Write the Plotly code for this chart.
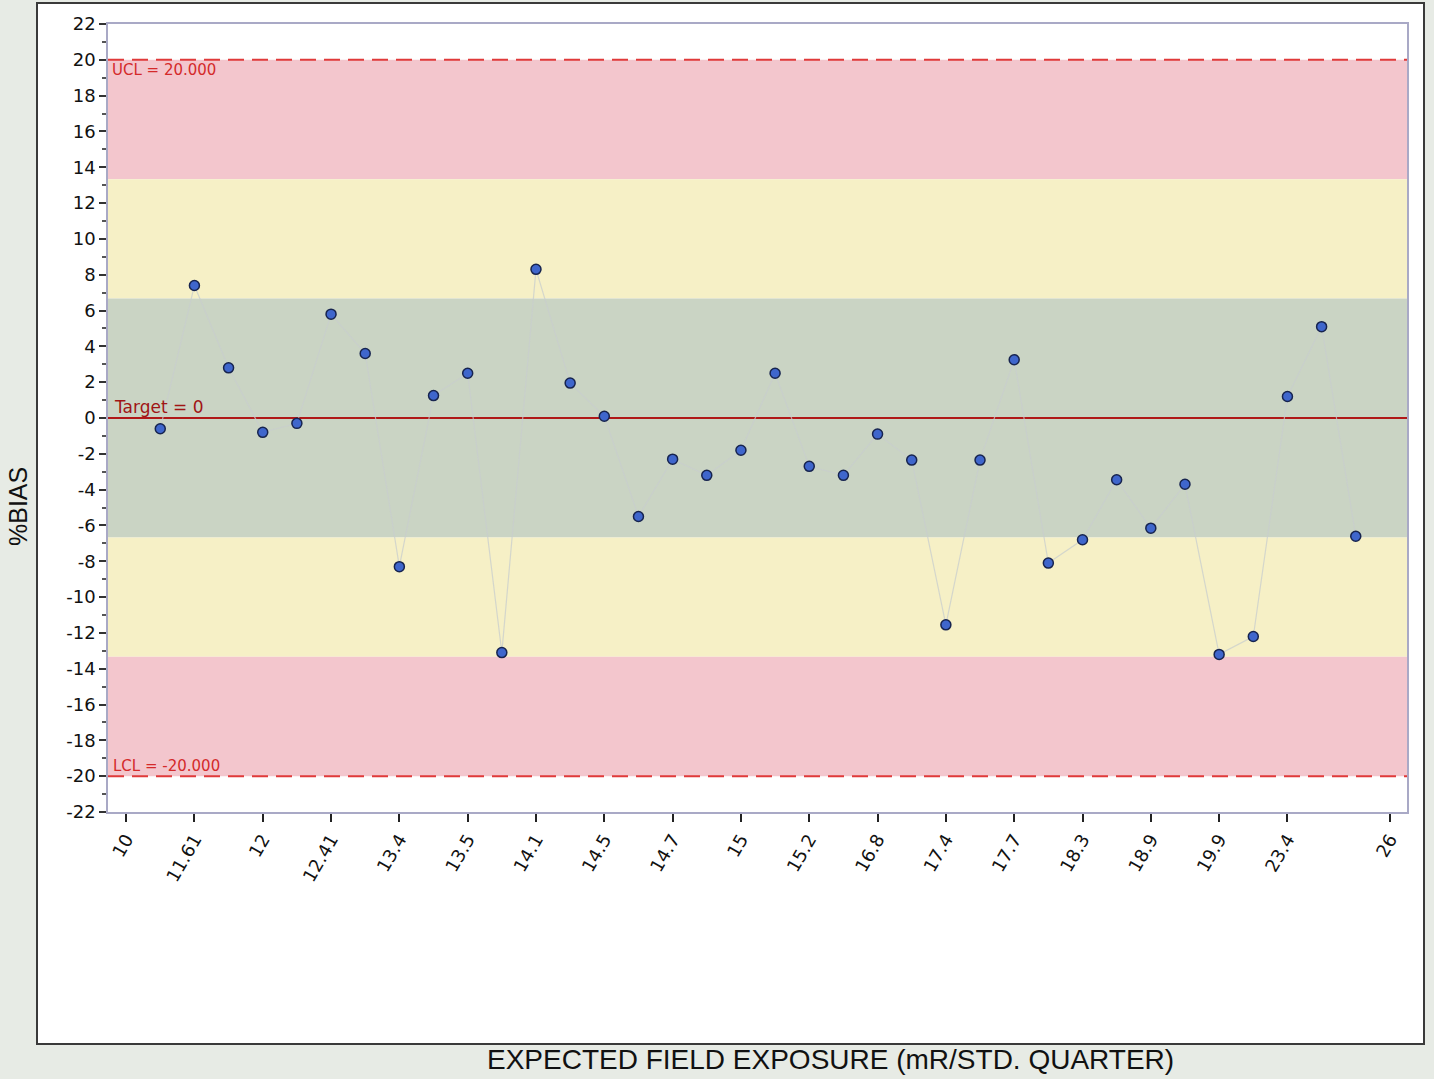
import plotly.graph_objects as go

# ---- data ----
tick_labels = ["10", "11.61", "12", "12.41", "13.4", "13.5", "14.1", "14.5", "14.7",
               "15", "15.2", "16.8", "17.4", "17.7", "18.3", "18.9", "19.9", "23.4", "26"]
tick_positions = [0, 2, 4, 6, 8, 10, 12, 14, 16, 18, 20, 22, 24, 26, 28, 30, 32, 34, 37]
sample_index = list(range(1, 37))
bias_values = [-0.6, 7.4, 2.8, -0.8, -0.3, 5.8, 3.6, -8.3, 1.25, 2.5, -13.1, 8.3,
               1.95, 0.1, -5.5, -2.3, -3.2, -1.8, 2.5, -2.7, -3.2, -0.9, -2.35, -11.55,
               -2.35, 3.25, -8.1, -6.8, -3.45, -6.15, -3.7, -13.2, -12.2, 1.2, 5.1, -6.6]
y_ticks = list(range(-22, 23, 2))
y_tick_labels = [str(v) for v in y_ticks]
UCL = 20.0
LCL = -20.0
TARGET = 0.0
zone_step = (UCL - TARGET) / 3.0

W, H = 1434, 1079
L, R, T, B = 108, 27, 24, 267
pw, ph = W - L - R, H - T - B

def px_x(p):
    return (p - L) / pw

def px_y(p):
    return (H - B - p) / ph

fig = go.Figure()

fig.add_trace(go.Scatter(
    x=sample_index, y=bias_values, mode="lines",
    line=dict(color="rgba(200,206,206,0.75)", width=1.2),
    hoverinfo="skip", showlegend=False))
fig.add_trace(go.Scatter(
    x=sample_index, y=bias_values, mode="markers",
    marker=dict(size=10, color="#3f66cc", line=dict(color="#17244f", width=1.5)),
    showlegend=False))

shapes = []
# outer framed box
shapes.append(dict(type="rect", xref="paper", yref="paper",
                   x0=px_x(37), x1=px_x(1424), y0=px_y(1044), y1=px_y(3),
                   fillcolor="white", line=dict(color="#3a3a3a", width=2), layer="below"))
# zone bands
bands = [
    (TARGET + 2 * zone_step, UCL, "#f3c6cd"),
    (TARGET + zone_step, TARGET + 2 * zone_step, "#f6f0c6"),
    (TARGET - zone_step, TARGET + zone_step, "#cad4c4"),
    (TARGET - 2 * zone_step, TARGET - zone_step, "#f6f0c6"),
    (LCL, TARGET - 2 * zone_step, "#f3c6cd"),
]
for y0, y1, c in bands:
    shapes.append(dict(type="rect", xref="paper", yref="y", x0=0, x1=1, y0=y0, y1=y1,
                       fillcolor=c, line=dict(width=0), layer="below"))
# control lines
for yv in (UCL, LCL):
    shapes.append(dict(type="line", xref="paper", yref="y", x0=0, x1=1, y0=yv, y1=yv,
                       line=dict(color="#e03a3a", width=2, dash="16px,8px"), layer="above"))
shapes.append(dict(type="line", xref="paper", yref="y", x0=0, x1=1, y0=TARGET, y1=TARGET,
                   line=dict(color="#b01818", width=2), layer="below"))

annotations = [
    dict(text="UCL = 20.000", xref="paper", yref="y", x=0.002, y=UCL, xanchor="left",
         yanchor="top", showarrow=False, borderpad=0,
         font=dict(family="DejaVu Sans", size=15, color="#d42a2a")),
    dict(text="Target = 0", xref="paper", yref="y", x=0.004, y=TARGET, xanchor="left",
         yanchor="bottom", showarrow=False, borderpad=0,
         font=dict(family="DejaVu Sans", size=17, color="#a01515")),
    dict(text="LCL = -20.000", xref="paper", yref="y", x=0.003, y=LCL, xanchor="left",
         yanchor="bottom", showarrow=False, borderpad=0,
         font=dict(family="DejaVu Sans", size=15, color="#d42a2a")),
    dict(text="EXPECTED FIELD EXPOSURE (mR/STD. QUARTER)", xref="paper", yref="paper",
         x=px_x(830), y=px_y(1059), xanchor="center", yanchor="middle", showarrow=False,
         font=dict(family="Liberation Sans", size=28, color="#111")),
    dict(text="%BIAS", xref="paper", yref="paper", x=px_x(18), y=px_y(507),
         xanchor="center", yanchor="middle", textangle=-90, showarrow=False,
         font=dict(family="Liberation Sans", size=25, color="#111")),
]

fig.update_layout(
    width=W, height=H,
    margin=dict(l=L, r=R, t=T, b=B, autoexpand=False),
    paper_bgcolor="#e7ebe5",
    plot_bgcolor="white",
    shapes=shapes,
    annotations=annotations,
    showlegend=False,
    xaxis=dict(range=[-0.53, 37.5], tickmode="array", tickvals=tick_positions,
               ticktext=tick_labels, tickangle=-60, ticks="outside", ticklen=8,
               tickwidth=2, tickcolor="#222", showgrid=False, zeroline=False,
               showline=True, linecolor="#a9a9c6", linewidth=1.5, mirror=True,
               tickfont=dict(family="DejaVu Sans", size=18, color="#111")),
    yaxis=dict(range=[-22, 22], tickmode="array", tickvals=y_ticks, ticktext=y_tick_labels,
               ticks="outside", ticklen=7, tickwidth=2, tickcolor="#333",
               minor=dict(dtick=1, ticks="outside", ticklen=4, tickcolor="#555", tickwidth=1.5),
               showgrid=False, zeroline=False, showline=True, linecolor="#a9a9c6",
               linewidth=1.5, mirror=True,
               tickfont=dict(family="DejaVu Sans", size=18, color="#111")),
)

fig.write_html("out.html", config={"displayModeBar": False},
               post_script="document.body.style.margin='0';")
